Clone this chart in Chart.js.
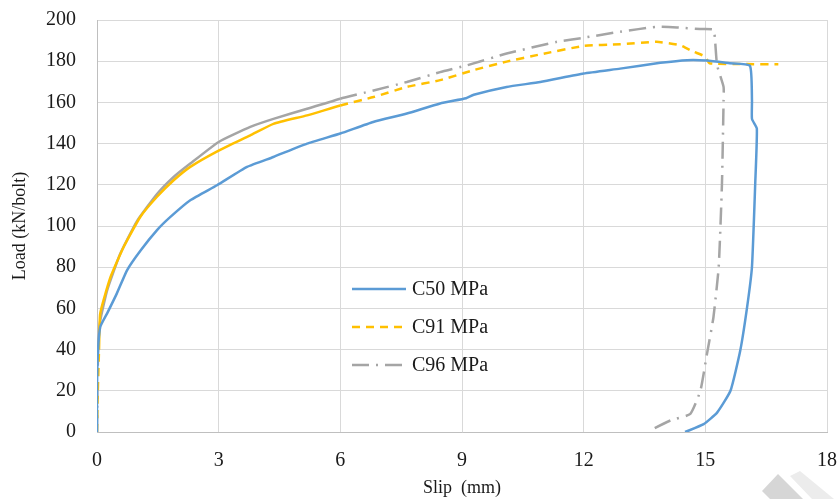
<!DOCTYPE html>
<html lang="en">
<head>
    <meta charset="UTF-8">
    <title>Load - Slip</title>
    <script src="https://cdn.jsdelivr.net/npm/chart.js@4.4.1/dist/chart.umd.min.js"></script>
    <style>
        html, body { margin: 0; padding: 0; background: #fff; }
        #wrap { width: 840px; height: 499px; position: relative; }
    </style>
</head>
<body>
<div id="wrap"><canvas id="slipChart"></canvas></div>

<script>
    // slip (mm) / load (kN/bolt)
    const c50Slip = [0, 0, 0.02, 0.08, 0.25, 0.49, 0.74, 1.07, 1.48, 1.81, 2.30, 2.96, 3.70, 4.35, 5.18, 6.0, 6.81, 7.64, 8.46, 9.1, 9.29, 10.1, 10.93, 12.0, 12.9, 13.89, 14.55, 15.04, 15.6, 16.1, 16.15, 16.15, 16.27, 16.23, 16.15, 16.03, 15.86, 15.62, 15.29, 14.96, 14.5]
    const c50Load = [0, 20, 38, 51, 57.6, 67.3, 78.5, 88, 98, 104.4, 112.5, 119.8, 128.7, 133.5, 140, 144.9, 150.5, 154.6, 159.5, 162, 163.7, 167.5, 169.9, 174, 176.4, 179.2, 180.5, 180.3, 179, 177.8, 161, 152, 147.3, 120.5, 80.2, 60.6, 39.4, 20, 9.4, 3.8, 0]

    const c91Slip = [0, 0.02, 0.05, 0.08, 0.33, 0.66, 1.07, 1.48, 1.89, 2.3, 3.0, 3.78, 4.35, 5.18, 6.0, 6.82, 7.64, 8.46, 9.29, 10.1, 10.93, 12.0, 12.9, 13.8, 14.37, 14.71, 15.0, 15.1, 16.0, 16.8]
    const c91Load = [0, 20, 40, 57.6, 75, 89.9, 104.5, 114.2, 122.2, 128.7, 136.6, 144, 149.6, 153.7, 158.5, 162.6, 167.5, 170.8, 175.7, 179.8, 183.3, 187.4, 188.2, 189.4, 187.8, 184.6, 182.2, 179, 178.6, 178.5]

    const c96Slip = [0, 0.01, 0.03, 0.08, 0.25, 0.57, 0.99, 1.48, 1.89, 2.30, 3.0, 3.78, 4.35, 5.18, 6.0, 6.82, 7.64, 8.46, 9.12, 10.1, 11.34, 12.0, 12.9, 13.8, 14.3, 14.87, 15.2, 15.24, 15.29, 15.45, 15.45, 15.41, 15.33, 15.2, 15.04, 14.88, 14.63, 14.14, 13.72, 13.64]
    const c96Load = [0, 20, 41, 54, 68.8, 86.4, 102.5, 115.5, 123.8, 130.3, 140.8, 148.1, 152, 156.9, 161.8, 165.8, 169.9, 174.7, 178, 183.7, 189.4, 191.4, 194.3, 196.7, 196.4, 195.6, 195.3, 190, 178, 167.5, 161, 120.5, 80.2, 55.7, 37.9, 20.2, 8.8, 5.6, 1.5, 0]

    const seriesNames = ['C50 MPa', 'C91 MPa', 'C96 MPa']
    const xTicks = [0, 3, 6, 9, 12, 15, 18]
    const yTicks = [0, 20, 40, 60, 80, 100, 120, 140, 160, 180, 200]

    const colors = ['#5b9bd5', '#ffc000', '#a5a5a5']
    const dashes = [[], [8, 6], [17, 7, 2, 7]]
    const serif = '"Liberation Serif", "Times New Roman", serif'

    function pairs(xs, ys) {
        return xs.map((x, i) => ({ x: x, y: ys[i] }))
    }

    // dense excel points look solid near the start, dashes show later
    function makeSet(i, xs, ys, solidUntil) {
        return {
            label: seriesNames[i],
            data: pairs(xs, ys),
            borderColor: colors[i],
            backgroundColor: colors[i],
            borderWidth: 2.5,
            pointRadius: 0,
            tension: 0.15,
            showLine: true,
            segment: {
                borderDash: (ctx) => ctx.p0.parsed.x < solidUntil && ctx.p0.parsed.y > 20 ? [] : dashes[i]
            }
        }
    }

    // legend sits inside the plot
    const innerLegend = {
        id: 'innerLegend',
        afterDraw(chart) {
            const c = chart.ctx
            c.save()
            c.font = '20px ' + serif
            c.textBaseline = 'middle'
            seriesNames.forEach((name, i) => {
                const y = 289 + i * 38
                c.strokeStyle = colors[i]
                c.lineWidth = 2.5
                c.setLineDash(dashes[i])
                c.beginPath()
                c.moveTo(352, y)
                c.lineTo(406, y)
                c.stroke()
                c.setLineDash([])
                c.fillStyle = '#1a1a1a'
                c.fillText(name, 412, y + 1)
            })
            c.restore()
        }
    }

    // faint mark in the corner of the scan
    const cornerMark = {
        id: 'cornerMark',
        afterDraw(chart) {
            const c = chart.ctx
            c.save()
            c.fillStyle = '#d6d6d6'
            c.beginPath()
            c.moveTo(762, 491); c.lineTo(778, 474); c.lineTo(803, 499); c.lineTo(770, 499)
            c.closePath(); c.fill()
            c.fillStyle = '#ececec'
            c.beginPath()
            c.moveTo(790, 476); c.lineTo(800, 471); c.lineTo(834, 499); c.lineTo(812, 499)
            c.closePath(); c.fill()
            c.restore()
        }
    }

    const ctx = document.getElementById('slipChart')

    const chart = new Chart(ctx, {
        type: 'scatter',
        data: {
            datasets: [
                makeSet(0, c50Slip, c50Load, 99),
                makeSet(1, c91Slip, c91Load, 5.2),
                makeSet(2, c96Slip, c96Load, 5.7)
            ]
        },
        options: {
            responsive: true,
            maintainAspectRatio: false,
            animation: false,
            layout: { padding: { top: 20, right: 13, bottom: 0, left: 0 } },
            plugins: {
                legend: { display: false },
                tooltip: { enabled: false }
            },
            scales: {
                x: {
                    type: 'linear',
                    min: 0,
                    max: 18,
                    afterBuildTicks: (axis) => { axis.ticks = xTicks.map(v => ({ value: v })) },
                    afterFit: (axis) => { axis.height = 67 },
                    grid: { color: '#d9d9d9', tickColor: 'transparent', tickLength: 16 },
                    border: { color: '#bfbfbf' },
                    ticks: { padding: 1, color: '#1a1a1a', font: { family: serif, size: 20 } },
                    title: {
                        display: true,
                        text: 'Slip  (mm)',
                        color: '#1a1a1a',
                        font: { family: serif, size: 18 },
                        padding: { top: 0, bottom: 0 }
                    }
                },
                y: {
                    min: 0,
                    max: 200,
                    afterBuildTicks: (axis) => { axis.ticks = yTicks.map(v => ({ value: v })) },
                    afterFit: (axis) => { axis.width = 97 },
                    grid: { color: '#d9d9d9', tickColor: 'transparent', tickLength: 20 },
                    border: { color: '#bfbfbf' },
                    ticks: { padding: 1, color: '#1a1a1a', font: { family: serif, size: 20 } },
                    title: {
                        display: true,
                        text: 'Load (kN/bolt)',
                        color: '#1a1a1a',
                        font: { family: serif, size: 18 },
                        padding: { top: 9, bottom: 0 }
                    }
                }
            }
        },
        plugins: [innerLegend, cornerMark]
    })
</script>
</body>
</html>
